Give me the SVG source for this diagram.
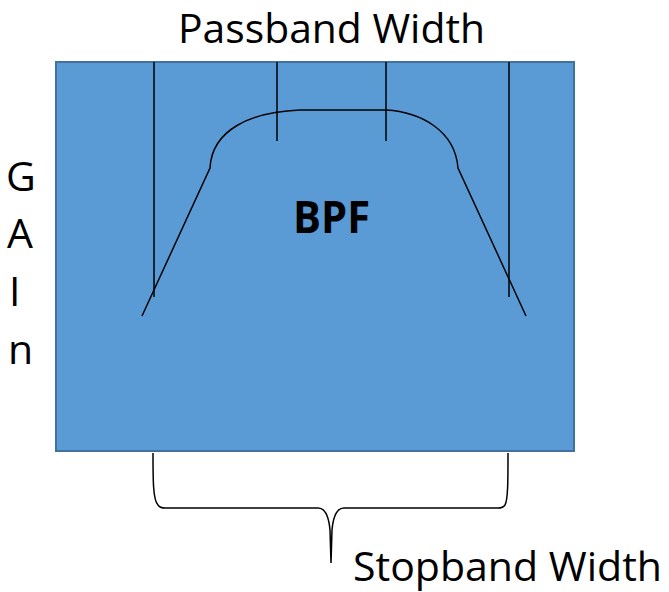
<svg xmlns="http://www.w3.org/2000/svg" width="669" height="592" viewBox="0 0 669 592">
<style>
.t{font-family:"Open Sans","Liberation Sans",sans-serif;fill:#000}
.g{font-size:41px}
.ln{fill:none;stroke:#000;stroke-width:1.5}
</style>
<rect width="669" height="592" fill="#fff"/>
<g id="box">
<rect x="56" y="62" width="518" height="389" fill="#5B9BD5" stroke="#41719C" stroke-width="2"/>
<text class="t" x="293" y="233" font-size="44" font-weight="bold" textLength="77" lengthAdjust="spacingAndGlyphs">BPF</text>
</g>
<g id="connectors">
<path class="ln" d="M154 62V297M277 62V141M386 62V141M509 62V297"/>
<path class="ln" d="M142 316L210 168C212 130 250 112 300 110L386 110C420 112 455 130 458 168L526 316"/>
<path class="ln" d="M153 453C153 480 153 500 158 505Q160 508 165 508L318 508Q328 508 330 530L331 563M331 563L332 530Q334 508 344 508L498 508Q503 508 505 505C508 500 508 480 508 453"/>
</g>
<g id="labels">
<text class="t" x="178" y="43" font-size="40" textLength="307" lengthAdjust="spacingAndGlyphs">Passband Width</text>
<text class="t" x="353" y="581" font-size="40" textLength="309" lengthAdjust="spacingAndGlyphs">Stopband Width</text>
<text class="t g" x="6" y="191">G</text>
<text class="t g" x="7" y="248">A</text>
<text class="t g" x="9" y="306">I</text>
<text class="t g" x="8" y="364">n</text>
</g>
</svg>
